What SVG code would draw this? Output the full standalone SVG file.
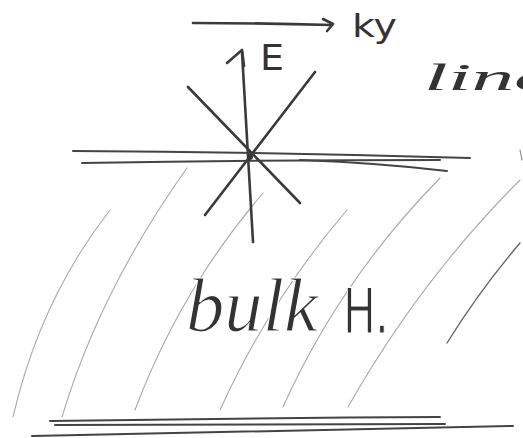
<svg xmlns="http://www.w3.org/2000/svg" width="523" height="438" viewBox="0 0 523 438">
<style>
.ink{fill:none;stroke:#3a3a3a;stroke-width:2.6;stroke-linecap:round;stroke-linejoin:round}
.thin{fill:none;stroke:#444;stroke-width:2;stroke-linecap:round}
.hatch{fill:none;stroke:#a8a8a8;stroke-width:1.1;stroke-linecap:round}
.hand{fill:#333;font-family:"DejaVu Sans","Liberation Sans",sans-serif}
.cursive{fill:#333;font-family:"Liberation Serif","DejaVu Serif",serif;font-style:italic}
.lite{stroke:#fff;stroke-width:1.2}
</style>
<rect width="523" height="438" fill="#fff"/>
<g id="hatching">
<path class="hatch" d="M13,417 Q40,300 110,210"/>
<path class="hatch" d="M62,417 Q100,290 187,168"/>
<path class="hatch" d="M135,410 Q180,290 263,193"/>
<path class="hatch" d="M220,410 Q270,300 347,210"/>
<path class="hatch" d="M283,407 Q340,280 440,178"/>
<path class="hatch" d="M348,407 Q420,280 520,180"/>
<path class="hatch" d="M447,343 Q480,290 520,243" style="stroke:#666;stroke-width:1.4"/>
<path class="hatch" d="M520,150 L522,160" style="stroke:#888"/>
</g>
<g id="surface">
<path class="thin" d="M73,151 Q270,152 470,158"/>
<path class="thin" d="M82,163 Q260,160 440,160"/>
<path class="thin" d="M300,160 Q380,163 447,171"/>
</g>
<g id="bottom">
<path class="thin" d="M50,421 Q250,418 440,417"/>
<path class="thin" d="M55,425 Q250,425 445,424"/>
<path class="thin" d="M32,436 Q280,430 513,426"/>
</g>
<g id="star">
<path class="ink" d="M242,52 L253,242"/>
<path class="ink" d="M227,63 L242,50 L244,66"/>
<path class="ink" d="M188,87 L300,203"/>
<path class="ink" d="M315,72 L205,215"/>
<circle cx="250" cy="157" r="3" fill="#333"/>
</g>
<g id="ky-arrow">
<path class="ink" d="M193,23 Q260,23 332,25"/>
<path class="ink" d="M323,19 L333,24 L327,31"/>
</g>
<text class="hand" x="260" y="70" font-size="36" textLength="24" lengthAdjust="spacingAndGlyphs">E</text>
<text class="hand" x="352" y="37" font-size="32" textLength="45" lengthAdjust="spacingAndGlyphs">ky</text>
<text class="cursive" x="424" y="90" font-size="38" textLength="128" lengthAdjust="spacingAndGlyphs">line</text>
<text class="cursive lite" x="186" y="331" font-size="76" textLength="132" lengthAdjust="spacingAndGlyphs">bulk</text>
<text class="hand lite" x="343" y="333" font-size="62" textLength="46" lengthAdjust="spacingAndGlyphs">H.</text>
</svg>
